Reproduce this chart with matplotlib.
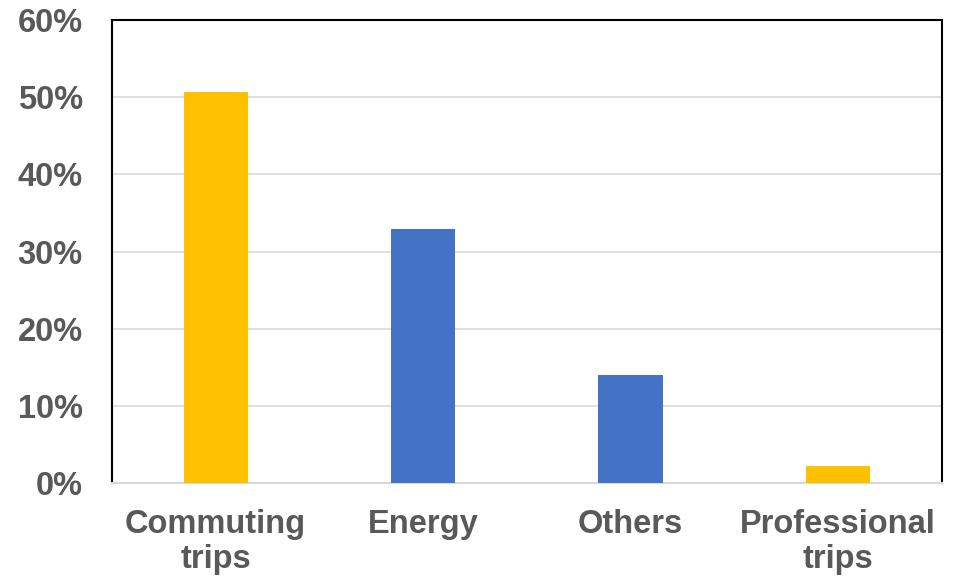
import matplotlib
matplotlib.use("Agg")
import matplotlib.pyplot as plt
from matplotlib.ticker import FuncFormatter

categories = ["Commuting\ntrips", "Energy", "Others", "Professional\ntrips"]
values = [50.7, 32.9, 14.0, 2.2]
colors = ["#FFC000", "#4472C4", "#4472C4", "#FFC000"]

plt.rcParams["font.family"] = ["Liberation Sans", "DejaVu Sans"]

fig = plt.figure(figsize=(9.57, 5.79), dpi=100)
ax = fig.add_axes([0.117, 0.166, 0.867, 0.799])

x = range(len(categories))
ax.bar(x, values, width=0.31, color=colors, zorder=3)

ax.set_xlim(-0.5, len(categories) - 0.5)
ax.set_ylim(0, 60)
ax.set_yticks(range(0, 61, 10))
ax.yaxis.set_major_formatter(FuncFormatter(lambda v, p: f"{v:.0f}%"))
ax.set_xticks(list(x))
ax.set_xticklabels(categories)

ax.grid(axis="y", color="#D9D9D9", linewidth=1.2, zorder=0)
ax.tick_params(length=0, labelsize=23.5, labelcolor="#595959")
ax.tick_params(axis="y", pad=21)
ax.tick_params(axis="x", pad=19)
for lab in ax.get_xticklabels() + ax.get_yticklabels():
    lab.set_fontweight("bold")
    lab.set_linespacing(1.15)

for s in ["left", "top", "right"]:
    ax.spines[s].set_color("#000000")
    ax.spines[s].set_linewidth(1.5)
ax.spines["bottom"].set_color("#D9D9D9")
ax.spines["bottom"].set_linewidth(1.5)

fig.savefig("out.png", dpi=100)
